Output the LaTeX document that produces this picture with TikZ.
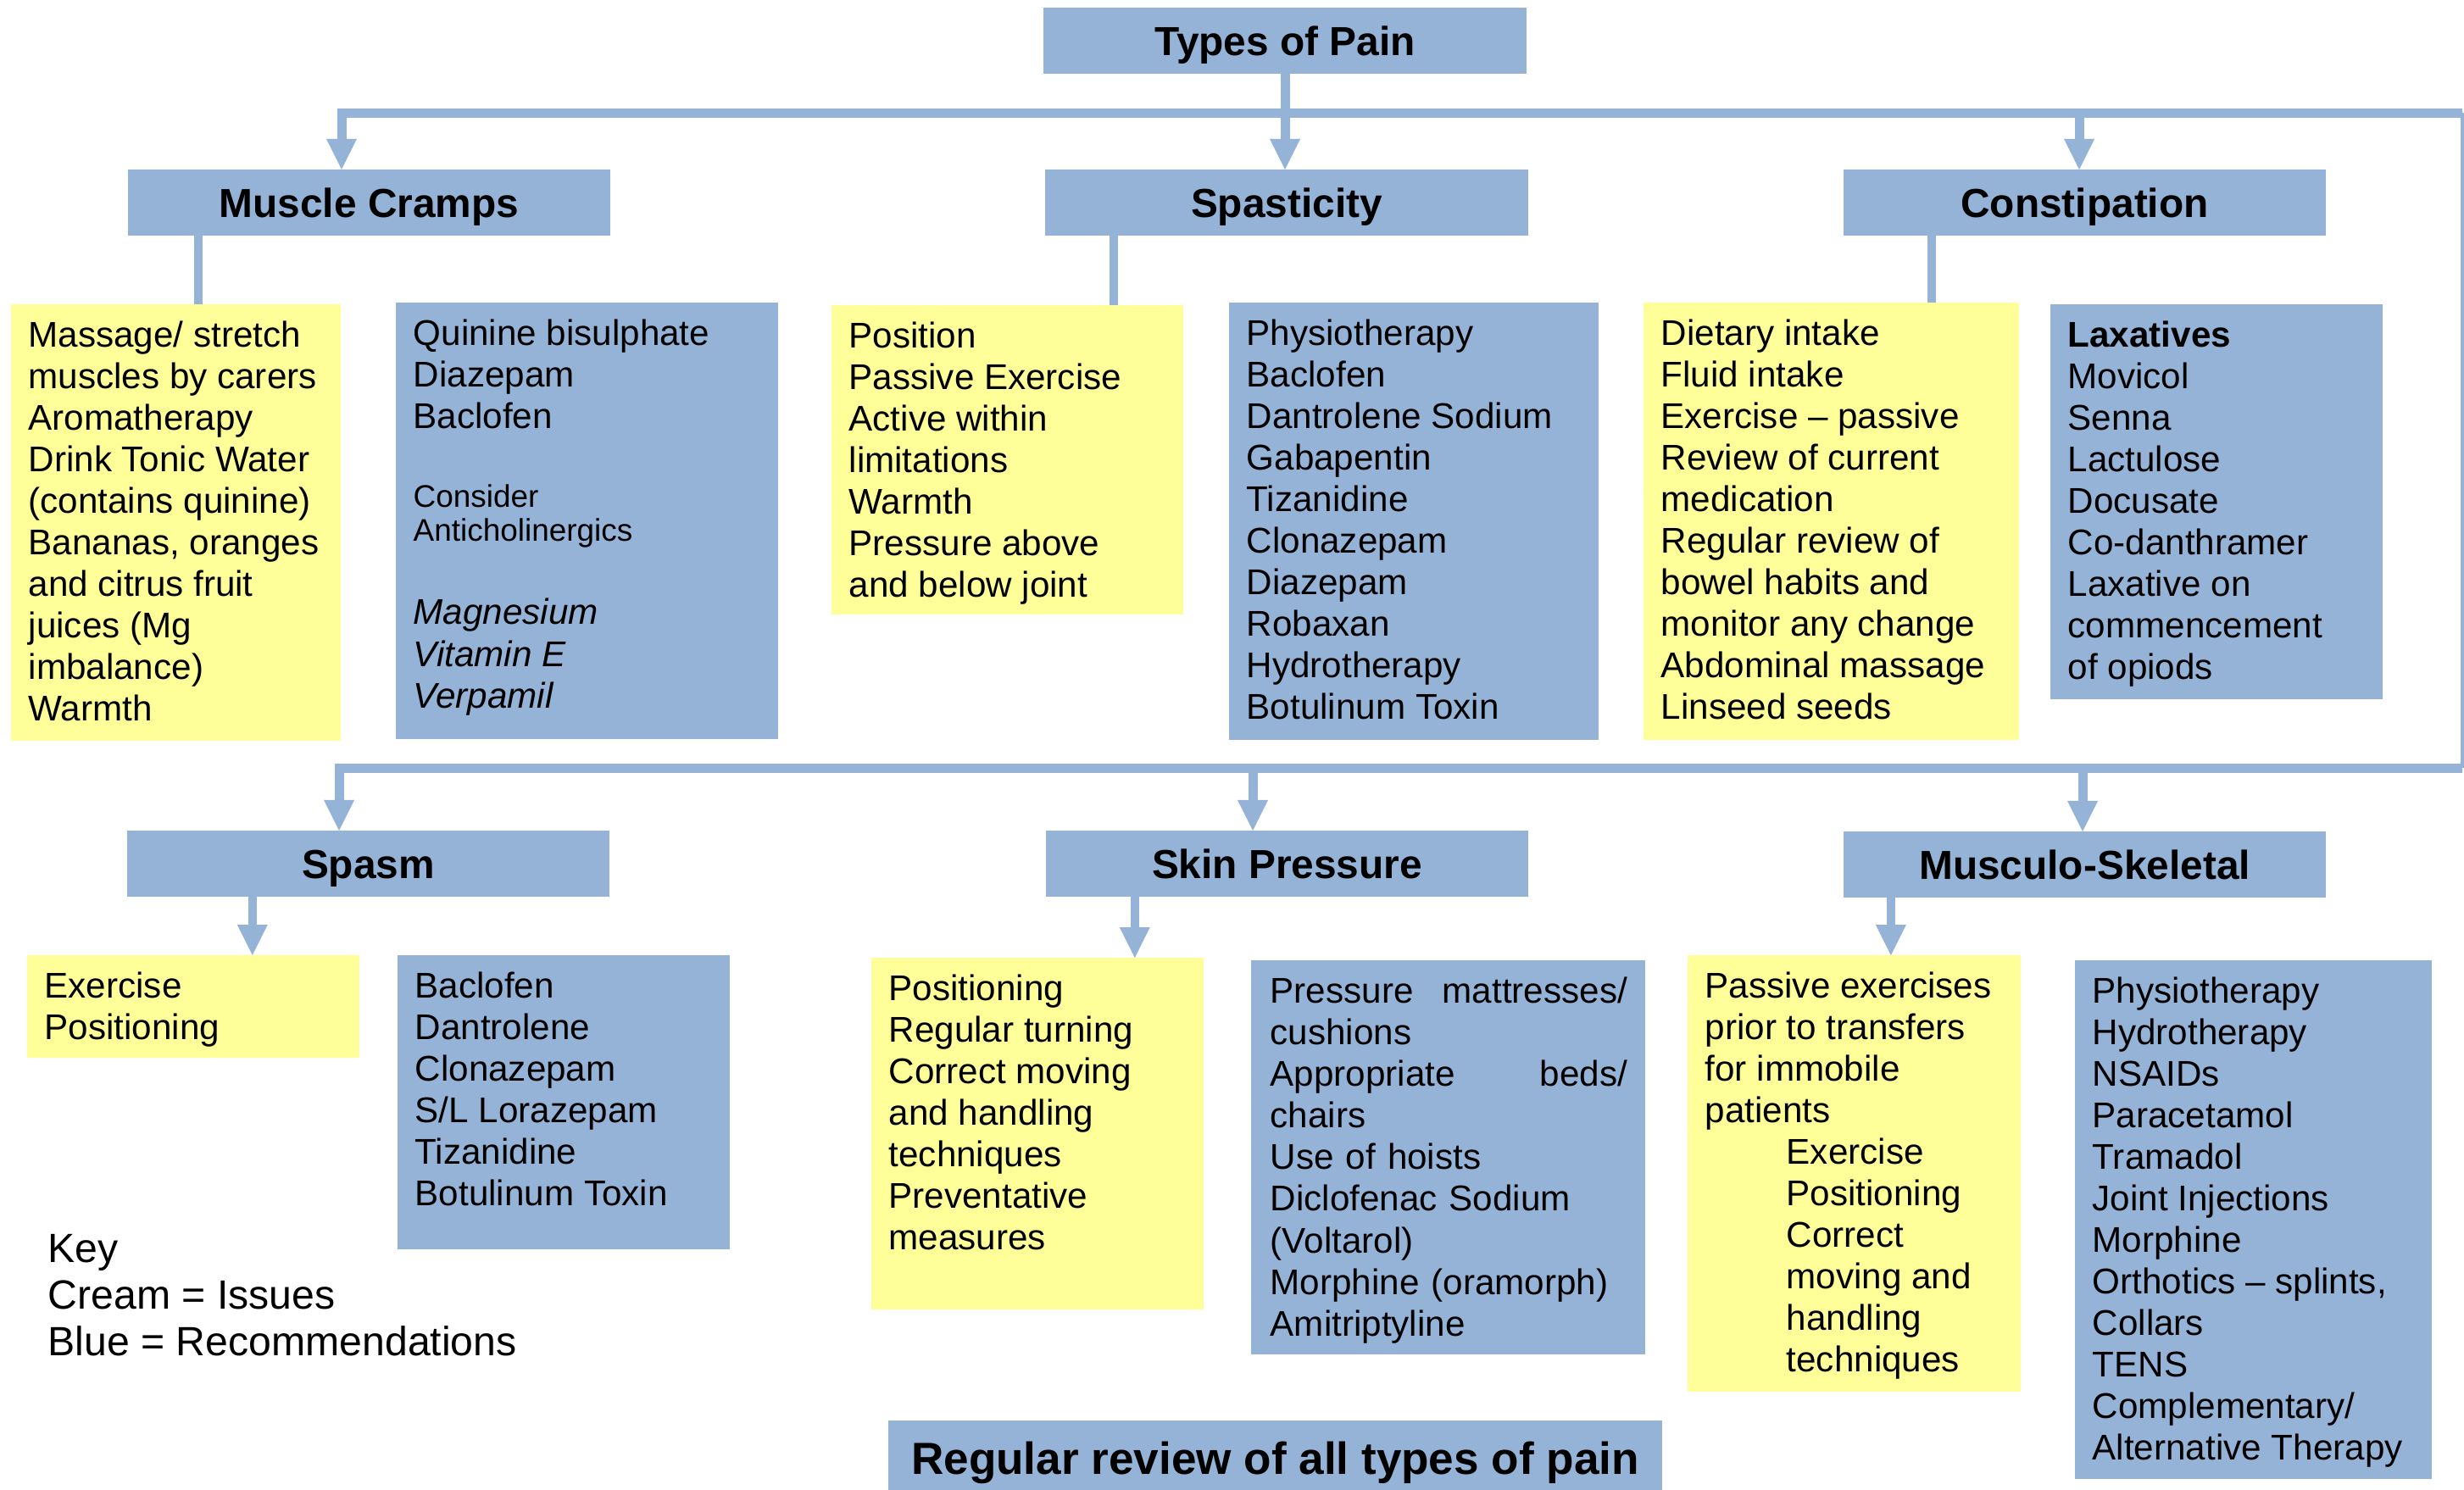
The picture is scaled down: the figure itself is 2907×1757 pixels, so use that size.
\documentclass[tikz,border=0pt]{standalone}
\usepackage{fontspec}
\setmainfont{Liberation Sans}
\usetikzlibrary{arrows.meta,fit,calc}
\definecolor{recblue}{HTML}{95B3D7}
\definecolor{cream}{HTML}{FFFF99}
\newcommand{\ind}{\hspace*{0.96cm}}
\tikzset{
	pane/.style={inner sep=0pt, outer sep=0pt},
	issue/.style={pane, fill=cream},
	advice/.style={pane, fill=recblue},
	hdr/.style={advice, minimum width=5.69cm, minimum height=0.78cm,
		font=\fontsize{13.6}{16}\selectfont\bfseries,
		text height=9.75pt, text depth=0pt},
	txt/.style={anchor=north west, inner sep=0pt, align=left,
		font=\fontsize{12}{13.95}\selectfont,
		execute at begin node={\rule{0pt}{8.8pt}}},
	keytxt/.style={anchor=north west, inner sep=0pt, align=left,
		font=\fontsize{13.7}{15.6}\selectfont,
		execute at begin node={\rule{0pt}{10pt}}},
	trunk/.style={draw=recblue, line width=1.1mm},
	thinrule/.style={draw=recblue, line width=0.35mm},
	stub/.style={draw=recblue, line width=1mm},
	feed/.style={trunk, -{Triangle[width=3.6mm,length=3.6mm,line width=0pt]}}
}

\begin{document}
\begin{tikzpicture}[x=0.01cm, y=-0.01cm]
	\useasboundingbox (0,0) rectangle (2907,1757);
	% headers
	\node[hdr] (tp) at (1516,48) {Types of Pain};
	\node[hdr] (mc) at (435.5,239) {Muscle Cramps};
	\node[hdr] (sp) at (1518,239) {Spasticity};
	\node[hdr] (co) at (2459.5,239) {Constipation};
	\node[hdr] (sm) at (434.5,1019) {Spasm};
	\node[hdr] (sk) at (1518.5,1019) {Skin Pressure};
	\node[hdr] (ms) at (2459.5,1020) {Musculo-Skeletal};
	% issue / recommendation panes
	\node[issue, fit={(13,359) (402,874)}] (mcI) {};
	\node[advice, fit={(467,357) (918,872)}] (mcR) {};
	\node[issue, fit={(981,360) (1396,725)}] (spI) {};
	\node[advice, fit={(1450,357) (1886,873)}] (spR) {};
	\node[issue, fit={(1939,357) (2382,873)}] (coI) {};
	\node[advice, fit={(2419,359) (2811,825)}] (coR) {};
	\node[issue, fit={(32,1127) (424,1248)}] (smI) {};
	\node[advice, fit={(469,1127) (861,1474)}] (smR) {};
	\node[issue, fit={(1028,1130) (1420,1545)}] (skI) {};
	\node[advice, fit={(1476,1133) (1941,1598)}] (skR) {};
	\node[issue, fit={(1991,1127) (2384,1642)}] (msI) {};
	\node[advice, fit={(2448,1133) (2869,1745)}] (msR) {};
	\node[hdr, minimum width=9.13cm, minimum height=0.88cm,
		font=\fontsize{15.1}{18}\selectfont\bfseries, text height=10.8pt]
		(rv) at (1504.5,1720) {Regular review of all types of pain};

	\node[txt] (mcIt) at ($(mcI.north west)+(20,19)$)
		{Massage/ stretch\\muscles by carers\\Aromatherapy\\Drink Tonic Water\\(contains quinine)\\Bananas, oranges\\and citrus fruit\\juices (Mg\\imbalance)\\Warmth};
	\node[txt] (mcRt) at ($(mcR.north west)+(20,19)$)
		{Quinine bisulphate\\Diazepam\\Baclofen\\[12.4pt]
		{\fontsize{10.5}{12}\selectfont Consider}\\[-2.4pt]
		{\fontsize{10.5}{12}\selectfont Anticholinergics}\\[14pt]
		\textit{Magnesium}\\\textit{Vitamin E}\\\textit{Verpamil}};
	\node[txt] (spIt) at ($(spI.north west)+(20,19)$)
		{Position\\Passive Exercise\\Active within\\limitations\\Warmth\\Pressure above\\and below joint};
	\node[txt] (spRt) at ($(spR.north west)+(20,19)$)
		{Physiotherapy\\Baclofen\\Dantrolene Sodium\\Gabapentin\\Tizanidine\\Clonazepam\\Diazepam\\Robaxan\\Hydrotherapy\\Botulinum Toxin};
	\node[txt] (coIt) at ($(coI.north west)+(20,19)$)
		{Dietary intake\\Fluid intake\\Exercise – passive\\Review of current\\medication\\Regular review of\\bowel habits and\\monitor any change\\Abdominal massage\\Linseed seeds};
	\node[txt] (coRt) at ($(coR.north west)+(20,19)$)
		{\textbf{Laxatives}\\Movicol\\Senna\\Lactulose\\Docusate\\Co-danthramer\\Laxative on\\commencement\\of opiods};
	\node[txt] (smIt) at ($(smI.north west)+(20,19)$)
		{Exercise\\Positioning};
	\node[txt] (smRt) at ($(smR.north west)+(20,19)$)
		{Baclofen\\Dantrolene\\Clonazepam\\S/L Lorazepam\\Tizanidine\\Botulinum Toxin};
	\node[txt] (skIt) at ($(skI.north west)+(20,19)$)
		{Positioning\\Regular turning\\Correct moving\\and handling\\techniques\\Preventative\\measures};
	\node[txt, text width=4.21cm] (skRt) at ($(skR.north west)+(22,19)$)
		{Pressure\hfill mattresses/\\cushions\\Appropriate\hfill beds/\\chairs\\Use of hoists\\Diclofenac Sodium\\(Voltarol)\\Morphine (oramorph)\\Amitriptyline};
	\node[txt] (msIt) at ($(msI.north west)+(20,19)$)
		{Passive exercises\\prior to transfers\\for immobile\\patients\\\ind Exercise\\\ind Positioning\\\ind Correct\\\ind moving and\\\ind handling\\\ind techniques};
	\node[txt] (msRt) at ($(msR.north west)+(20,19)$)
		{Physiotherapy\\Hydrotherapy\\NSAIDs\\Paracetamol\\Tramadol\\Joint Injections\\Morphine\\Orthotics – splints,\\Collars\\TENS\\Complementary/\\Alternative Therapy};

	\node[keytxt] (key) at (56,1456) {Key\\Cream = Issues\\Blue = Recommendations};

	% trunk lines
	\coordinate (tl) at (403,133);
	\coordinate (tr) at (2905,133);
	\coordinate (t3) at (2453,133);
	\coordinate (br) at (2905,906);
	\coordinate (bl) at (400,906);
	\coordinate (b2) at (1478,906);
	\coordinate (b3) at (2457,906);
	\draw[feed] (tr) -- (tl) -- (tl |- mc.north);
	\draw[feed] (tp.south) -- (tp.south |- sp.north);
	\draw[feed] (t3) -- (t3 |- co.north);
	\draw[thinrule] (tr) -- (br);
	\draw[feed] (br) -- (bl) -- (bl |- sm.north);
	\draw[feed] (b2) -- (b2 |- sk.north);
	\draw[feed] (b3) -- (b3 |- ms.north);
	% header to pane
	\draw[stub] ($(mc.south west)+(83,0)$) coordinate (s1) -- (s1 |- mcI.north);
	\draw[stub] ($(sp.south west)+(81,0)$) coordinate (s2) -- (s2 |- spI.north);
	\draw[stub] ($(co.south west)+(104,0)$) coordinate (s3) -- (s3 |- coI.north);
	\draw[feed, line width=1mm] ($(sm.south west)+(148,0)$) coordinate (s4) -- (s4 |- smI.north);
	\draw[feed, line width=1mm] ($(sk.south west)+(105,0)$) coordinate (s5) -- (s5 |- skI.north);
	\draw[feed, line width=1mm] ($(ms.south west)+(56,0)$) coordinate (s6) -- (s6 |- msI.north);
\end{tikzpicture}
\end{document}
